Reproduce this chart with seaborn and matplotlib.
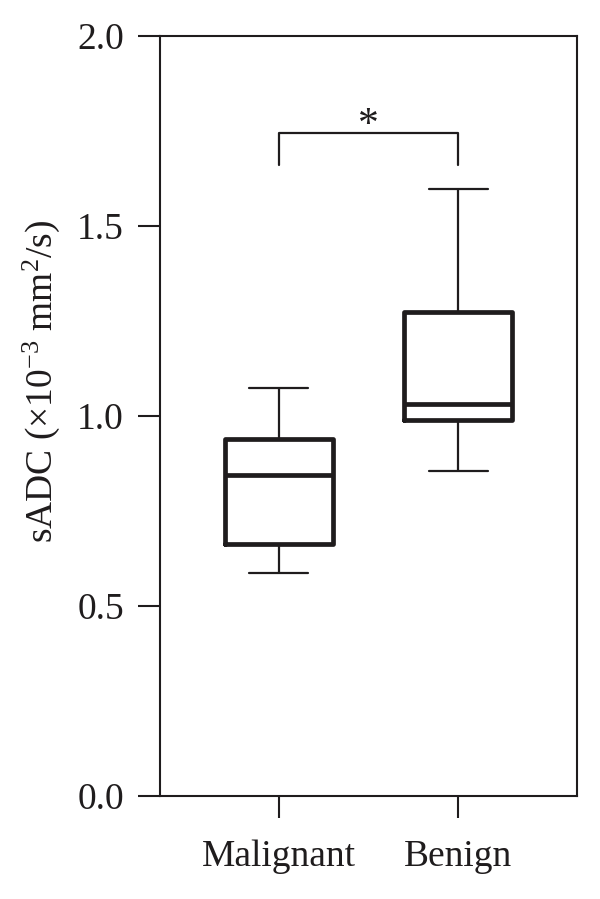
import numpy as np
import pandas as pd
import matplotlib
matplotlib.use("Agg")
import matplotlib.pyplot as plt
import seaborn as sns

# values: whisker low, Q1, median, Q3, whisker high
groups = ["Malignant", "Benign"]
malignant = [0.587, 0.663, 0.845, 0.939, 1.074]
benign = [0.855, 0.989, 1.032, 1.274, 1.597]
y_ticks = [0.0, 0.5, 1.0, 1.5, 2.0]
sig_label = "*"

df = pd.DataFrame({
    "group": ["Malignant"] * len(malignant) + ["Benign"] * len(benign),
    "sadc": malignant + benign,
})

ink = "#1f1c1d"

sns.set_style("ticks")
plt.rcParams["font.family"] = ["Liberation Serif", "DejaVu Serif"]
plt.rcParams["mathtext.fontset"] = "custom"
plt.rcParams["mathtext.rm"] = "Liberation Serif"
plt.rcParams["mathtext.it"] = "Liberation Serif:italic"

fig = plt.figure(figsize=(6, 8.99), dpi=100)
ax = fig.add_axes([0.2667, 0.1146, 0.6950, 0.8454])

sns.boxplot(data=df, x="group", y="sadc", order=groups, ax=ax,
            width=0.6, whis=np.inf, fill=False, color=ink,
            capwidths=0.33,
            boxprops=dict(linewidth=3.4, color=ink),
            medianprops=dict(linewidth=3.4, color=ink),
            whiskerprops=dict(linewidth=1.6, color=ink),
            capprops=dict(linewidth=1.6, color=ink))

# significance bracket
ax.plot([0, 0, 1, 1], [1.66, 1.745, 1.745, 1.66], color=ink, lw=1.6)
ax.text(0.5, 1.737, sig_label, ha="center", va="baseline", fontsize=30, color=ink)

ax.set_xlim(-0.66, 1.66)
ax.set_ylim(0, 2.0)
ax.set_yticks(y_ticks)
ax.set_yticklabels([f"{v:.1f}" for v in y_ticks])
ax.set_xlabel("")
ax.set_ylabel(r"sADC ($\times$10$^{-3}$ mm$^2$/s)", fontsize=27, color=ink)
ax.yaxis.set_label_coords(-0.236, 0.545)

for s in ax.spines.values():
    s.set_visible(True)
    s.set_linewidth(1.5)
    s.set_color(ink)
ax.tick_params(direction="out", length=16, width=1.5, color=ink,
               labelcolor=ink, labelsize=27, pad=10)
ax.tick_params(axis="x", pad=15)

fig.savefig("out.png", dpi=100)
